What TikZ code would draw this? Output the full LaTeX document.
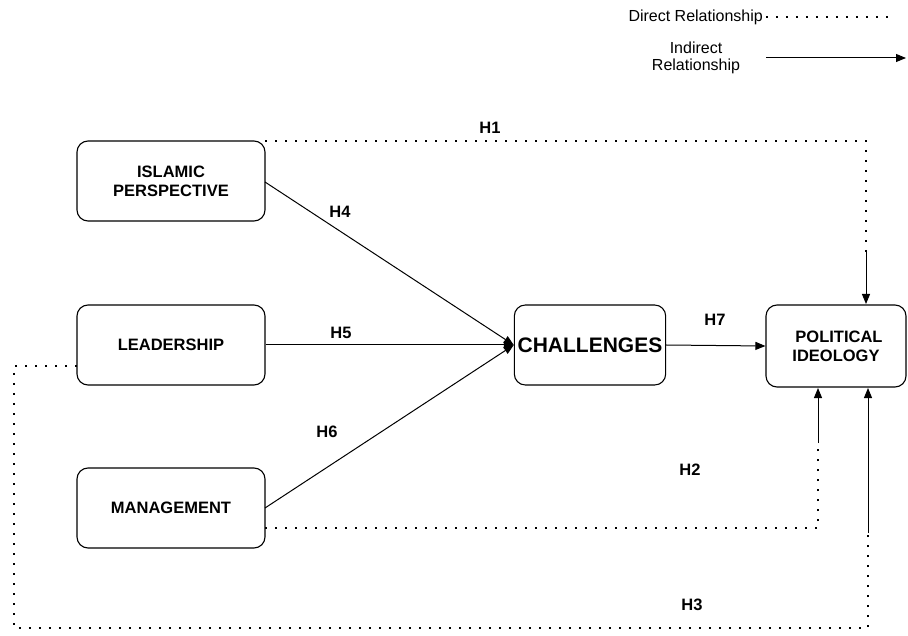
\documentclass[tikz,border=0pt]{standalone}
\usepackage{fontspec}
\setmainfont{Liberation Sans}
\usetikzlibrary{arrows.meta}
\begin{document}
\begin{tikzpicture}[x=1pt,y=-1pt,
  box/.style={draw, line width=1.1pt, rounded corners=11pt, align=center, font=\bfseries\fontsize{16.5}{19}\selectfont},
  solidarrow/.style={line width=1pt, -{Triangle[length=10pt,width=8pt]}},
  dotline/.style={line width=2.2pt, dash pattern=on 2.2pt off 7.8pt},
  lab/.style={font=\bfseries\fontsize{16.5}{19}\selectfont},
  leg/.style={font=\fontsize{16}{17}\selectfont, align=center}]
\useasboundingbox (0,0) rectangle (908,636);
% boxes
\node[box, minimum width=188pt, minimum height=80pt] (isl) at (171,181) {ISLAMIC\\PERSPECTIVE};
\node[box, minimum width=188pt, minimum height=80pt] (lead) at (171,345) {LEADERSHIP};
\node[box, minimum width=188pt, minimum height=80pt] (man) at (171,508) {MANAGEMENT};
\node[box, minimum width=150pt, minimum height=80pt, font=\bfseries\fontsize{21}{24}\selectfont] (chal) at (590,345) {CHALLENGES};
\node[box, minimum width=140pt, minimum height=82pt] (pol) at (836,346) {\hspace*{6pt}POLITICAL\\IDEOLOGY};
% solid arrows
\draw[solidarrow] (265,182) -- (chal.west);
\draw[solidarrow] (lead.east) -- (chal.west);
\draw[solidarrow] (265,508) -- (chal.west);
\draw[solidarrow] (chal.east) -- (pol.west);
\node[lab] (h4) at (340,212) {H4};
\node[lab] (h5) at (341,333) {H5};
\node[lab] (h6) at (327,432) {H6};
\node[lab] (h7) at (715,320) {H7};
% H1
\coordinate (h1a) at (265,141);
\coordinate (h1b) at (866,141);
\coordinate (h1c) at (866,252);
\coordinate (h1d) at (866,304);
\draw[dotline] (h1a) -- (h1b) -- (h1c);
\draw[solidarrow] (h1c) -- (h1d);
\node[lab] (h1) at (490,128) {H1};
% H2
\coordinate (h2a) at (265,528);
\coordinate (h2b) at (818,528);
\coordinate (h2c) at (818,443);
\coordinate (h2d) at (818,388);
\draw[dotline] (h2a) -- (h2b) -- (h2c);
\draw[solidarrow] (h2c) -- (h2d);
\node[lab] (h2) at (690,470) {H2};
% H3
\coordinate (h3a) at (77,366);
\coordinate (h3b) at (14,366);
\coordinate (h3c) at (14,628);
\coordinate (h3d) at (868,628);
\coordinate (h3e) at (868,533);
\coordinate (h3f) at (868,388);
\draw[dotline] (h3a) -- (h3b) -- (h3c) -- (h3d) -- (h3e);
\draw[solidarrow] (h3e) -- (h3f);
\node[lab] (h3) at (692,605) {H3};
% legend
\node[leg, anchor=east, inner sep=1pt] (ld) at (764,17) {Direct Relationship};
\coordinate (lda) at (766,17);
\coordinate (ldb) at (892,17);
\draw[dotline, line width=1.8pt, dash pattern=on 1.8pt off 8.2pt] (lda) -- (ldb);
\node[leg] (li) at (696,58) {Indirect\\Relationship};
\coordinate (lia) at (766,58);
\coordinate (lib) at (906,58);
\draw[solidarrow] (lia) -- (lib);
\end{tikzpicture}
\end{document}
